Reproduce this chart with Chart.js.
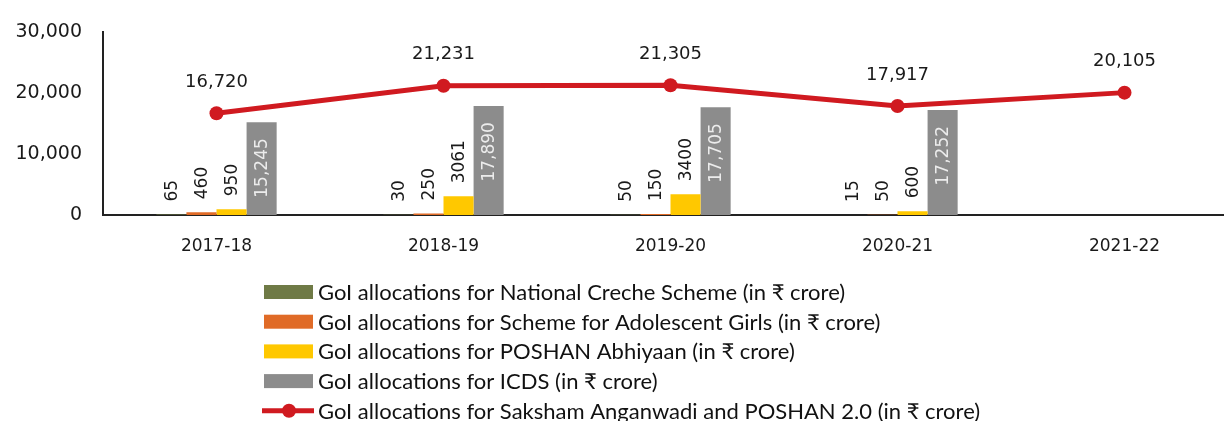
<!DOCTYPE html>
<html>
<head>
<meta charset="utf-8">
<script src="https://cdn.jsdelivr.net/npm/chart.js@4.4.1/dist/chart.umd.min.js"></script>
<style>
  html, body { margin: 0; padding: 0; overflow: hidden; background: #fff; }
  #wrap { width: 1240px; height: 421px; }
</style>
</head>
<body>
<div id="wrap"><canvas id="chart" width="1240" height="421"></canvas></div>
<script>
// values (in ₹ crore)
const years = ['2017-18', '2018-19', '2019-20', '2020-21', '2021-22'];
const crecheScheme = [65, 30, 50, 15, null];
const adolescentGirls = [460, 250, 150, 50, null];
const poshanAbhiyaan = [950, 3061, 3400, 600, null];
const icds = [15245, 17890, 17705, 17252, null];
const sakshamPoshan = [16720, 21231, 21305, 17917, 20105];

const seriesNames = [
  'GoI allocations for National Creche Scheme (in ₹ crore)',
  'GoI allocations for Scheme for Adolescent Girls (in ₹ crore)',
  'GoI allocations for POSHAN Abhiyaan (in ₹ crore)',
  'GoI allocations for ICDS (in ₹ crore)',
  'GoI allocations for Saksham Anganwadi and POSHAN 2.0 (in ₹ crore)'
];
const yMin = 0, yMax = 30000, yStep = 10000;

const RED = '#d01a20';
const barColors = ['#6f7a46', '#e06b27', '#ffc800', '#8c8c8c'];
const numFont = '"DejaVu Sans", sans-serif';

// data labels (rotated for bars, above the point for the line)
const valueLabels = {
  id: 'valueLabels',
  afterDatasetsDraw(chart) {
    const ctx = chart.ctx;
    chart.data.datasets.forEach((ds, i) => {
      const meta = chart.getDatasetMeta(i);
      meta.data.forEach((el, j) => {
        const v = ds.data[j];
        if (v == null) return;
        const txt = ds.commas ? v.toLocaleString('en-US') : String(v);
        ctx.save();
        ctx.font = '17px ' + numFont;
        ctx.textBaseline = 'middle';
        if (ds.type === 'line') {
          ctx.fillStyle = '#1a1a1a';
          ctx.textAlign = 'center';
          ctx.font = '18px ' + numFont;
          ctx.fillText(txt, el.x, el.y - 31);
        } else {
          ctx.translate(el.x, ds.labelInside ? el.y + 16 : el.y - 13);
          ctx.rotate(-Math.PI / 2);
          ctx.textAlign = ds.labelInside ? 'right' : 'left';
          ctx.fillStyle = ds.labelInside ? '#ececec' : '#1a1a1a';
          ctx.fillText(txt, 0, 1);
        }
        ctx.restore();
      });
    });
  }
};

// single-column legend under the plot
const columnLegend = {
  id: 'columnLegend',
  afterDraw(chart) {
    const ctx = chart.ctx;
    const x0 = 264, y0 = 292, rowH = 29.7;
    ctx.save();
    ctx.font = '22px Lato, "Noto Sans", sans-serif';
    ctx.textBaseline = 'middle';
    ctx.textAlign = 'left';
    seriesNames.forEach((name, i) => {
      const y = y0 + i * rowH;
      if (i < 4) {
        ctx.fillStyle = barColors[i];
        ctx.fillRect(x0, y - 7, 49, 14);
      } else {
        ctx.strokeStyle = RED;
        ctx.lineWidth = 5;
        ctx.beginPath();
        ctx.moveTo(x0 - 2, y);
        ctx.lineTo(x0 + 50, y);
        ctx.stroke();
        ctx.fillStyle = RED;
        ctx.beginPath();
        ctx.arc(x0 + 25, y, 7, 0, Math.PI * 2);
        ctx.fill();
      }
      ctx.fillStyle = '#111';
      ctx.fillText(name, x0 + 54, y + 1);
    });
    ctx.restore();
  }
};

const barDefaults = {
  type: 'bar',
  categoryPercentage: 0.53,
  barPercentage: 1,
  borderWidth: 0,
  order: 1
};

new Chart(document.getElementById('chart'), {
  type: 'bar',
  data: {
    labels: years,
    datasets: [
      {
        type: 'line',
        label: seriesNames[4],
        data: sakshamPoshan,
        borderColor: RED,
        backgroundColor: RED,
        borderWidth: 5,
        pointRadius: 7,
        pointBorderWidth: 0,
        pointBackgroundColor: RED,
        tension: 0,
        commas: true,
        order: 0
      },
      { ...barDefaults, label: seriesNames[0], data: crecheScheme, backgroundColor: barColors[0] },
      { ...barDefaults, label: seriesNames[1], data: adolescentGirls, backgroundColor: barColors[1] },
      { ...barDefaults, label: seriesNames[2], data: poshanAbhiyaan, backgroundColor: barColors[2] },
      { ...barDefaults, label: seriesNames[3], data: icds, backgroundColor: barColors[3], commas: true, labelInside: true }
    ]
  },
  options: {
    responsive: false,
    devicePixelRatio: 1,
    animation: false,
    layout: { autoPadding: false, padding: { left: 0, top: 28, right: 2, bottom: 0 } },
    plugins: {
      legend: { display: false },
      tooltip: { enabled: false }
    },
    scales: {
      x: {
        grid: { display: false, drawTicks: false },
        border: { display: true, color: '#222', width: 2 },
        ticks: { color: '#1a1a1a', font: { family: numFont, size: 17 }, padding: 21 },
        afterFit: s => { s.height = 206; }
      },
      y: {
        min: yMin,
        max: yMax,
        grid: { display: false, drawTicks: false },
        border: { display: true, color: '#222', width: 2 },
        ticks: {
          stepSize: yStep,
          color: '#1a1a1a',
          font: { family: numFont, size: 19 },
          padding: 21,
          callback: v => v.toLocaleString('en-US')
        },
        afterFit: s => { s.width = 103; }
      }
    }
  },
  plugins: [valueLabels, columnLegend]
});
</script>
</body>
</html>
